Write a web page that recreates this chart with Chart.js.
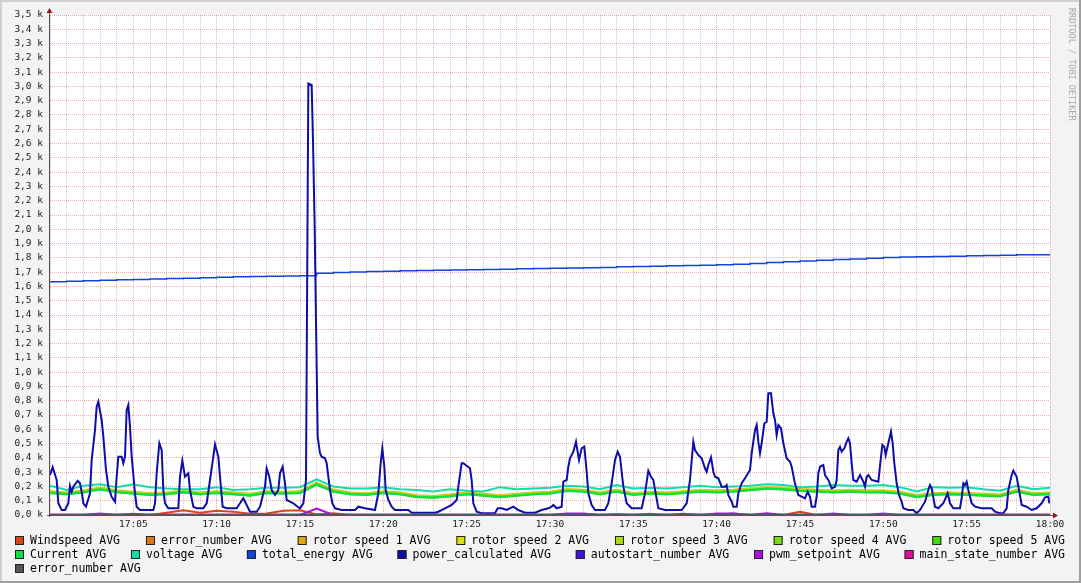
<!DOCTYPE html>
<html><head><meta charset="utf-8">
<script src="https://cdn.jsdelivr.net/npm/chart.js@4/dist/chart.umd.min.js"></script>
<style>html,body{margin:0;padding:0;background:#f3f3f3;overflow:hidden}canvas{display:block}</style>
</head><body>
<canvas id="c" width="1081" height="583"></canvas>
<script>
// ---------- data ----------
const seriesNames = ['Windspeed AVG','error_number AVG','rotor speed 1 AVG','rotor speed 2 AVG','rotor speed 3 AVG','rotor speed 4 AVG','rotor speed 5 AVG','Current AVG','voltage AVG','total_energy AVG','power_calculated AVG','autostart_number AVG','pwm_setpoint AVG','main_state_number AVG','error_number AVG'];
const seriesColors = ['#DD4411','#DD7711','#DDAA11','#DDDD11','#AADD11','#77DD11','#44DD11','#11DD44','#11DDAA','#1144DD','#0D0DAA','#4411DD','#AA11DD','#DD1199','#555555'];
const legendRows = [7, 7, 1];
const xTickLabels = ['', '17:05', '17:10', '17:15', '17:20', '17:25', '17:30', '17:35', '17:40', '17:45', '17:50', '17:55', '18:00'];

// per-minute series (17:00 .. 18:00)
const windspeed = [0,0,0,0,0,0,0,15,33,15,30,23,8,10,30,33,3,12,0,0, 0,0,0,0,0,0,0,0,0,0, 0,0,5,0,0,0,8,0,0,0, 0,10,0,0,0,22,0,0,0,0, 0,0,0,0,0,0,0,0,0,0, 0];
const errorNumber1 = [0,0,0,0,0,0,0,0,0,0, 0,0,0,0,0,0,0,0,0,0, 0,0,0,0,0,0,0,0,0,0, 0,0,0,0,0,0,0,0,0,0, 0,0,0,0,0,0,0,0,0,0, 0,0,0,0,0,0,0,0,0,0, 0];
const rotor1 = [167,158,171,192,173,162,152,158,172,157,167,158,148,167,162,167,226,178,158,153,167,158,139,133,143,158,148,139,148,157,162,181,177,158,176,153,162,157,167,176,172,177,186,196,191,182,177,172,176,172,171,162,139,153,157,152,148,143,176,153,157];
const rotor2 = [164,154,169,189,169,159,149,154,169,154,164,154,144,164,159,164,224,174,154,149,164,154,134,129,139,154,144,134,144,154,159,179,174,154,174,149,159,154,164,174,169,174,184,194,189,179,174,169,174,169,169,159,134,149,154,149,144,139,174,149,154];
const rotor3 = [161,151,166,186,166,156,146,151,166,151,161,151,141,161,156,161,221,171,151,146,161,151,131,126,136,151,141,131,141,151,156,176,171,151,171,146,156,151,161,171,166,171,181,191,186,176,171,166,171,166,166,156,131,146,151,146,141,136,171,146,151];
const rotor4 = [158,148,163,183,163,153,143,148,163,148,158,148,138,158,153,158,218,168,148,143,158,148,128,123,133,148,138,128,138,148,153,173,168,148,168,143,153,148,158,168,163,168,178,188,183,173,168,163,168,163,163,153,128,143,148,143,138,133,168,143,148];
const rotor5 = [155,145,160,180,160,150,140,145,160,145,155,145,135,155,150,155,215,165,145,140,155,145,125,120,130,145,135,125,135,145,150,170,165,145,165,140,150,145,155,165,160,165,175,185,180,170,165,160,165,160,160,150,125,140,145,140,135,130,165,140,145];
const current = [153,146,158,178,161,148,141,146,158,146,153,146,136,153,151,153,212,163,146,141,153,146,127,122,131,146,136,126,136,146,151,168,163,146,163,141,151,146,153,163,158,163,173,183,178,168,163,158,163,158,158,148,126,141,146,141,136,131,163,141,146];
const voltage = [205,175,205,215,195,215,195,185,180,180,195,175,180,190,190,195,250,200,185,185,195,180,175,165,180,170,165,195,180,185,190,205,200,180,210,185,190,185,195,205,195,200,205,215,210,195,200,210,205,205,210,195,165,195,190,195,180,170,205,180,190];
const totalEnergy = [1633,1636,1640,1643,1646,1649,1652,1655,1658,1661,1664,1667,1669,1671,1673,1675,1692,1697,1701,1704,1707,1709,1711,1713,1715,1717,1719,1721,1723,1725,1727,1729,1731,1733,1737,1740,1742,1744,1746,1748,1752,1756,1761,1767,1773,1778,1783,1788,1792,1797,1802,1806,1808,1810,1812,1815,1817,1819,1821,1822,1823];
const autostartNumber = [0,0,0,0,0,0,0,0,0,0, 0,0,0,0,0,0,0,0,0,0, 0,0,0,0,0,0,0,0,0,0, 0,0,0,0,0,0,0,0,0,0, 0,0,0,0,0,0,0,0,0,0, 0,0,0,0,0,0,0,0,0,0, 0];
const pwmSetpoint = [0,0,0,10,0,8,0,0,0,0, 0,0,0,0,0,0,45,0,0,0, 0,0,0,0,0,0,0,0,0,0, 0,10,10,0,5,0,0,0,8,0, 10,10,0,12,0,0,0,10,0,0, 10,0,0,0,0,0,0,0,0,0, 0];
const mainState = [4,4,4,4,4,4,4,4,4,4, 4,4,4,4,4,4,4,4,4,4, 4,4,4,4,4,4,4,4,4,4, 4,4,4,4,4,4,4,4,4,4, 4,4,4,4,4,4,4,4,4,4, 4,4,4,4,4,4,4,4,4,4, 4];
const errorNumber2 = [0,0,0,0,0,0,0,0,0,0, 0,0,0,0,0,0,0,0,0,0, 0,0,0,0,0,0,0,0,0,0, 0,0,0,0,0,0,0,0,0,0, 0,0,0,0,0,0,0,0,0,0, 0,0,0,0,0,0,0,0,0,0, 0];

// power_calculated, irregular samples: minutes after 17:00 and watts
const powerTimes = [0,0.16,0.4,0.5,0.7,0.9,1.1,1.2,1.3,1.4,1.66,1.8,1.9,2,2.16,2.4,2.5,2.7,2.8,2.9,3.1,3.2,3.36,3.5,3.7,3.9,4,4.1,4.3,4.4,4.5,4.6,4.7,4.8,4.9,5.1,5.2,5.4,6.2,6.3,6.4,6.56,6.7,6.8,6.9,7.1,7.7,7.8,7.94,8.1,8.3,8.4,8.6,8.8,9.2,9.4,9.6,9.8,9.9,10.1,10.2,10.36,10.6,11.2,11.4,11.6,11.8,12,12.4,12.6,12.9,13,13.16,13.3,13.5,13.7,13.8,13.96,14.1,14.2,14.4,14.6,14.8,15,15.2,15.36,15.5,15.7,15.78,15.88,16.06,16.2,16.3,16.5,16.6,16.7,16.8,16.94,17.1,17.5,18.3,18.5,18.9,19.5,19.7,19.84,19.94,20.06,20.14,20.3,20.5,20.7,21.5,21.7,23.1,23.3,23.7,24.1,24.4,24.5,24.7,24.8,25,25.2,25.3,25.4,25.6,25.9,26.7,26.86,27.1,27.4,27.8,28.1,28.5,29.1,29.5,29.9,30.1,30.2,30.4,30.7,30.8,31,31.1,31.2,31.4,31.56,31.74,31.9,32.06,32.2,32.3,32.5,32.7,33.3,33.5,33.7,33.9,34.06,34.2,34.4,34.6,34.9,35.5,35.7,35.9,36.06,36.2,36.34,36.5,36.9,37.9,38.2,38.4,38.6,38.7,38.9,39.1,39.3,39.4,39.5,39.66,39.8,39.9,40.1,40.3,40.5,40.6,40.7,40.9,41,41.2,41.3,41.5,41.7,42,42.1,42.3,42.4,42.5,42.6,42.7,42.86,43,43.1,43.26,43.4,43.5,43.6,43.7,43.86,44,44.2,44.4,44.5,44.7,44.9,45.1,45.3,45.46,45.6,45.7,45.9,46,46.1,46.2,46.4,46.5,46.7,46.9,47.1,47.2,47.3,47.4,47.5,47.66,47.8,47.9,48,48.1,48.2,48.4,48.6,48.8,48.9,49,49.1,49.3,49.7,49.86,49.94,50.06,50.14,50.3,50.46,50.56,50.66,50.8,50.94,51.1,51.2,51.5,51.8,52,52.2,52.5,52.7,52.8,52.9,53.1,53.3,53.6,53.86,54,54.2,54.6,54.7,54.8,54.9,55,55.1,55.3,55.5,55.9,56.5,56.7,57,57.2,57.4,57.5,57.7,57.8,58,58.14,58.3,58.6,58.9,59.2,59.5,59.7,59.9,59.96];
const powerValues = [280,334,245,82,35,35,82,203,163,198,240,222,163,82,58,152,385,595,758,793,665,548,315,198,128,93,268,408,408,362,408,735,770,618,408,152,58,35,35,82,292,502,455,175,82,47,47,268,380,268,292,175,58,47,47,82,245,408,495,408,268,58,47,47,82,117,70,23,23,58,198,327,268,175,140,175,292,338,222,105,93,82,63,47,82,245,3020,3010,2620,2020,548,432,408,397,362,268,175,82,47,35,35,58,47,35,152,362,467,338,175,105,58,35,35,16,16,23,47,70,105,198,362,362,345,327,245,82,23,12,12,47,47,35,58,35,16,16,35,47,58,70,47,58,233,245,338,397,443,513,385,467,478,303,152,70,35,35,82,222,385,443,408,198,82,47,47,152,310,268,245,152,47,35,35,82,245,513,455,420,397,327,303,350,404,303,268,257,198,198,210,140,93,58,58,152,222,257,315,432,595,630,513,432,502,642,653,852,852,712,665,560,630,607,502,397,373,338,220,140,128,117,163,128,58,58,128,292,338,350,280,245,187,198,245,455,478,443,467,513,537,502,362,245,233,280,233,198,268,280,245,233,408,490,478,420,502,583,502,362,222,140,93,47,35,35,12,35,93,175,210,187,58,47,82,152,82,47,47,117,222,210,233,175,82,58,47,47,23,12,12,47,175,280,310,268,175,70,58,35,47,82,124,128,82];

// ---------- build datasets ----------
const perMinute = [windspeed, errorNumber1, rotor1, rotor2, rotor3, rotor4, rotor5, current, voltage, totalEnergy, null, autostartNumber, pwmSetpoint, mainState, errorNumber2];
const widths = [2,2,2,2,2,2,2,2,2,1.5,2,2,2,2,2];
const datasets = seriesNames.map((name, i) => {
  const data = perMinute[i] ? perMinute[i].map((v, m) => ({x: m, y: v}))
                            : powerTimes.map((t, k) => ({x: t, y: powerValues[k]}));
  return {
    label: name, data, borderColor: seriesColors[i], backgroundColor: seriesColors[i],
    borderWidth: widths[i], pointRadius: 0, fill: false, tension: 0,
    stepped: name === 'total_energy AVG' ? 'before' : false,
    order: -i
  };
});

const MONO = '"DejaVu Sans Mono", "Liberation Mono", monospace';
const MAJOR = 'rgba(222,72,72,0.45)';
const MINOR = 'rgba(143,143,143,0.45)';

const rrdPlugin = {
  id: 'rrd',
  beforeDraw(chart) {
    const {ctx, chartArea: a, width: W, height: H} = chart;
    ctx.save();
    ctx.fillStyle = '#F3F3F3'; ctx.fillRect(0, 0, W, H);
    ctx.fillStyle = '#FFFFFF'; ctx.fillRect(a.left, a.top, a.right - a.left, a.bottom - a.top);
    // 3D frame
    ctx.fillStyle = '#CFCFCF'; ctx.fillRect(0, 0, W, 2); ctx.fillRect(0, 0, 2, H);
    ctx.fillStyle = '#9E9E9E'; ctx.fillRect(0, H - 2, W, 2); ctx.fillRect(W - 2, 0, 2, H);
    ctx.restore();
  },
  afterDraw(chart) {
    const {ctx, chartArea: a} = chart;
    ctx.save();
    // axes
    ctx.strokeStyle = '#555'; ctx.lineWidth = 1;
    ctx.beginPath();
    ctx.moveTo(a.left - 0.5, a.bottom + 2); ctx.lineTo(a.left - 0.5, a.top - 4);
    ctx.moveTo(a.left - 3, a.bottom + 0.5); ctx.lineTo(a.right + 4, a.bottom + 0.5);
    ctx.stroke();
    // arrows
    ctx.fillStyle = '#8C1A1A';
    ctx.beginPath();
    ctx.moveTo(a.left - 0.5, a.top - 7); ctx.lineTo(a.left - 3.5, a.top - 2); ctx.lineTo(a.left + 2.5, a.top - 2); ctx.closePath(); ctx.fill();
    ctx.beginPath();
    ctx.moveTo(a.right + 8, a.bottom + 0.5); ctx.lineTo(a.right + 3, a.bottom - 2.5); ctx.lineTo(a.right + 3, a.bottom + 3.5); ctx.closePath(); ctx.fill();
    // credit
    ctx.save();
    ctx.translate(1071, 8); ctx.rotate(Math.PI / 2);
    ctx.font = '8.5px ' + MONO; ctx.fillStyle = '#A8A8A8'; ctx.textBaseline = 'middle'; ctx.textAlign = 'left';
    ctx.fillText('RRDTOOL / TOBI OETIKER', 0, 0);
    ctx.restore();
    // legend (justified rows, rrdtool style)
    const L = 15, R = 1065, rowY = [541, 555, 569];
    ctx.font = '11.5px ' + MONO; ctx.textBaseline = 'middle'; ctx.textAlign = 'left';
    const ds = chart.data.datasets;
    let idx = 0;
    legendRows.forEach((n, r) => {
      const items = ds.slice(idx, idx + n); idx += n;
      const w = items.map(d => 15 + ctx.measureText(d.label).width);
      const total = w.reduce((s, v) => s + v, 0);
      const gap = n > 1 ? (R - L - total) / (n - 1) : 0;
      let x = L; const y = rowY[r];
      items.forEach((d, k) => {
        ctx.fillStyle = d.borderColor; ctx.fillRect(x, y - 5, 9, 9);
        ctx.strokeStyle = '#222'; ctx.lineWidth = 1; ctx.strokeRect(x + 0.5, y - 4.5, 8, 8);
        ctx.fillStyle = '#000'; ctx.fillText(d.label, x + 15, y);
        x += w[k] + gap;
      });
    });
    ctx.restore();
  }
};

new Chart(document.getElementById('c'), {
  type: 'line',
  data: { datasets },
  plugins: [rrdPlugin],
  options: {
    responsive: false, animation: false, devicePixelRatio: 1,
    layout: { padding: { left: 0, right: 31, top: 15, bottom: 48 } },
    plugins: { legend: { display: false }, tooltip: { enabled: false } },
    scales: {
      x: {
        type: 'linear', min: 0, max: 60,
        afterFit: s => { s.height = 20; },
        border: { display: false, dash: [1, 1] },
        grid: { color: c => (c.tick && c.tick.value % 5 === 0) ? MAJOR : MINOR, lineWidth: 1, drawTicks: false },
        ticks: { stepSize: 1, autoSkip: false, maxRotation: 0, padding: 4, color: '#1a1a1a',
          font: { family: MONO, size: 9.5 },
          callback: v => (v % 5 === 0) ? xTickLabels[v / 5] : '' }
      },
      y: {
        min: 0, max: 3500,
        afterFit: s => { s.width = 50; },
        border: { display: false, dash: [1, 1] },
        grid: { color: MAJOR, lineWidth: 1, drawTicks: false },
        ticks: { stepSize: 100, autoSkip: false, padding: 7, color: '#1a1a1a',
          font: { family: MONO, size: 9.5 },
          callback: v => (v / 1000).toFixed(1).replace('.', ',') + ' k' }
      }
    }
  }
});
</script>
</body></html>
